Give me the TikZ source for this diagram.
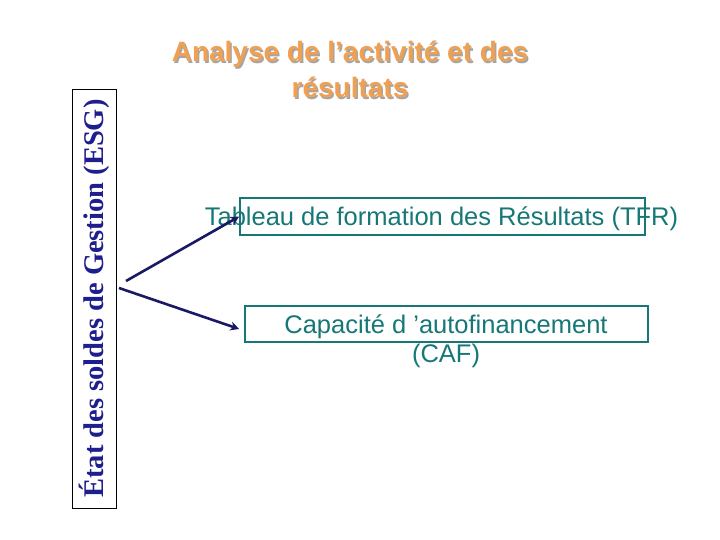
\documentclass[tikz,border=0pt]{standalone}
\usepackage{fontspec}
\setmainfont{Liberation Sans}
\newfontfamily\serifb{Liberation Serif}
\usetikzlibrary{arrows.meta}
\definecolor{titleorange}{RGB}{240,160,80}
\definecolor{shadowgray}{RGB}{165,165,165}
\definecolor{navytext}{RGB}{30,30,140}
\definecolor{tealc}{RGB}{22,120,118}
\definecolor{arrownavy}{RGB}{26,26,100}
\tikzset{
  titletext/.style={font=\fontsize{28}{36}\selectfont\bfseries, align=center, inner sep=0pt},
  tealbox/.style={draw=tealc, line width=1.6pt, inner sep=0pt},
  tealtext/.style={text=tealc, font=\fontsize{25.5}{29}\selectfont, align=center, inner sep=0pt},
  esgbox/.style={draw=black, line width=0.8pt, rotate=90, minimum width=419pt, minimum height=44pt, inner sep=0pt,
    text=navytext, font=\serifb\fontsize{28.5}{30}\selectfont\bfseries},
  arr/.style={draw=arrownavy, line width=2.6pt, -{Stealth[length=9pt,width=9pt]}}
}
\begin{document}
\begin{tikzpicture}[x=1pt,y=-1pt]
\useasboundingbox (0,0) rectangle (720,540);
% title with shadow
\node[titletext, text=shadowgray] (titlesh) at (351.5,71) {Analyse de l’activité et des\\résultats};
\node[titletext, text=titleorange] (title) at (350,69.5) {Analyse de l’activité et des\\résultats};
% ESG box
\node[esgbox] (esg) at (94,298.5) {État des soldes de Gestion (ESG)};
% boxes
\node[tealbox, minimum width=405pt, minimum height=37pt] (tfrbox) at (442.5,216.5) {};
\node[tealtext] (tfr) at (441.5,218.5) {Tableau de formation des Résultats (TFR)};
\node[tealbox, minimum width=403pt, minimum height=36pt] (cafbox) at (446.5,324) {};
\node[tealtext, anchor=north] (caf) at (446,315) {Capacité d ’autofinancement\\(CAF)};
% arrows
\coordinate (s1) at (126,281);
\coordinate (s2) at (119,288);
\draw[arr] (s1) -- (tfrbox.west);
\draw[arr] (s2) -- ([xshift=-5pt,yshift=-5pt]cafbox.west);
\end{tikzpicture}
\end{document}
